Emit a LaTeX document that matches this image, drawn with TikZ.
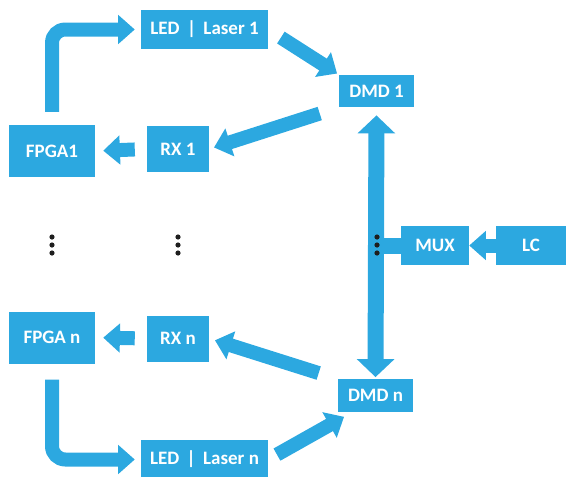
\documentclass[tikz,border=0pt]{standalone}
\usepackage{fontspec}
\setsansfont{Carlito}
\usepackage{tikz}
\usetikzlibrary{arrows.meta,calc}
\definecolor{azul}{RGB}{44,168,224}
\definecolor{punto}{RGB}{30,30,30}

\begin{document}
\begin{tikzpicture}[
  x=0.03cm, y=-0.03cm,
  font=\sffamily\bfseries\fontsize{16.2}{19}\selectfont,
  caja/.style={fill=azul, text=white, inner sep=0pt},
  ledbox/.style={caja, minimum width=3.81cm, minimum height=1.17cm},
  fpgabox/.style={caja, minimum width=2.58cm, minimum height=1.56cm},
  rxbox/.style={caja, minimum width=1.86cm, minimum height=1.38cm},
  dmdbox/.style={caja, minimum width=2.25cm, minimum height=0.97cm},
  flecha/.style={draw=azul, line width=0.42cm,
                 -{Triangle[length=0.5cm, width=0.85cm]}},
  tramo/.style={draw=azul, line width=0.48cm},
]
\useasboundingbox (0,0) rectangle (568,476);
% --- Rama superior ---------------------------------------------------------
\node[ledbox] (led1) at (204.5,29.5) {LED \,|\, Laser 1};
\node[fpgabox] (fpga1) at (52,151) {FPGA1};
\node[rxbox] (rx1) at (178,149) {RX 1};
\node[dmdbox] (dmd1) at (376.5,91) {DMD 1};
% --- Multiplexor y fuente ----------------------------------------------------
\node[caja, minimum width=2.04cm, minimum height=1.17cm] (mux) at (435,245.5) {MUX};
\node[caja, minimum width=2.1cm, minimum height=1.17cm] (lc) at (531,245.5) {LC};
% --- Rama inferior -----------------------------------------------------------
\node[fpgabox] (fpgan) at (52,337.5) {FPGA n};
\node[rxbox] (rxn) at (178,338.5) {RX n};
\node[dmdbox] (dmdn) at (375.5,395.5) {DMD n};
\node[ledbox] (ledn) at (204.5,459.5) {LED \,|\, Laser n};
% --- Conexiones ------------------------------------------------------------
\draw[flecha, rounded corners=0.4cm, shorten <=0.39cm, shorten >=0.18cm]
  (fpga1.north) |- (led1.west);
\draw[flecha, shorten <=0.36cm, shorten >=0.24cm] (rx1.west) -- (fpga1.east);
\draw[flecha, shorten <=0.6cm, shorten >=0.15cm] (dmd1.south west) -- (rx1.east);
\draw[flecha, shorten <=0.45cm, shorten >=0.06cm] (led1.east) -- (dmd1.north west);
\draw[flecha] (lc.west) -- (mux.east);
\coordinate (bus) at (dmd1.south |- mux.west);
\draw[tramo] (mux.west) -- (bus);
\draw[flecha, line width=0.48cm,
  {Triangle[length=0.54cm, width=1.1cm]}-{Triangle[length=0.54cm, width=1.1cm]},
  shorten <=0.24cm, shorten >=0.06cm] (dmd1.south) -- (dmdn.north);
\draw[flecha, shorten <=0.6cm, shorten >=0.18cm] (dmdn.north west) -- (rxn.east);
\draw[flecha, shorten <=0.3cm, shorten >=0.3cm]
  (ledn.east) -- ($(dmdn.south west)+(15,0)$);
\draw[flecha, rounded corners=0.4cm, shorten <=0.48cm, shorten >=0.18cm]
  (fpgan.south) |- (ledn.west);
\draw[flecha, shorten <=0.36cm, shorten >=0.24cm] (rxn.west) -- (fpgan.east);
% --- Puntos suspensivos ----------------------------------------------------
\foreach \x in {52,178,377}
  \foreach \y in {237,245,253}
    \fill[punto] (\x,\y) circle (2.6);
\end{tikzpicture}
\end{document}
